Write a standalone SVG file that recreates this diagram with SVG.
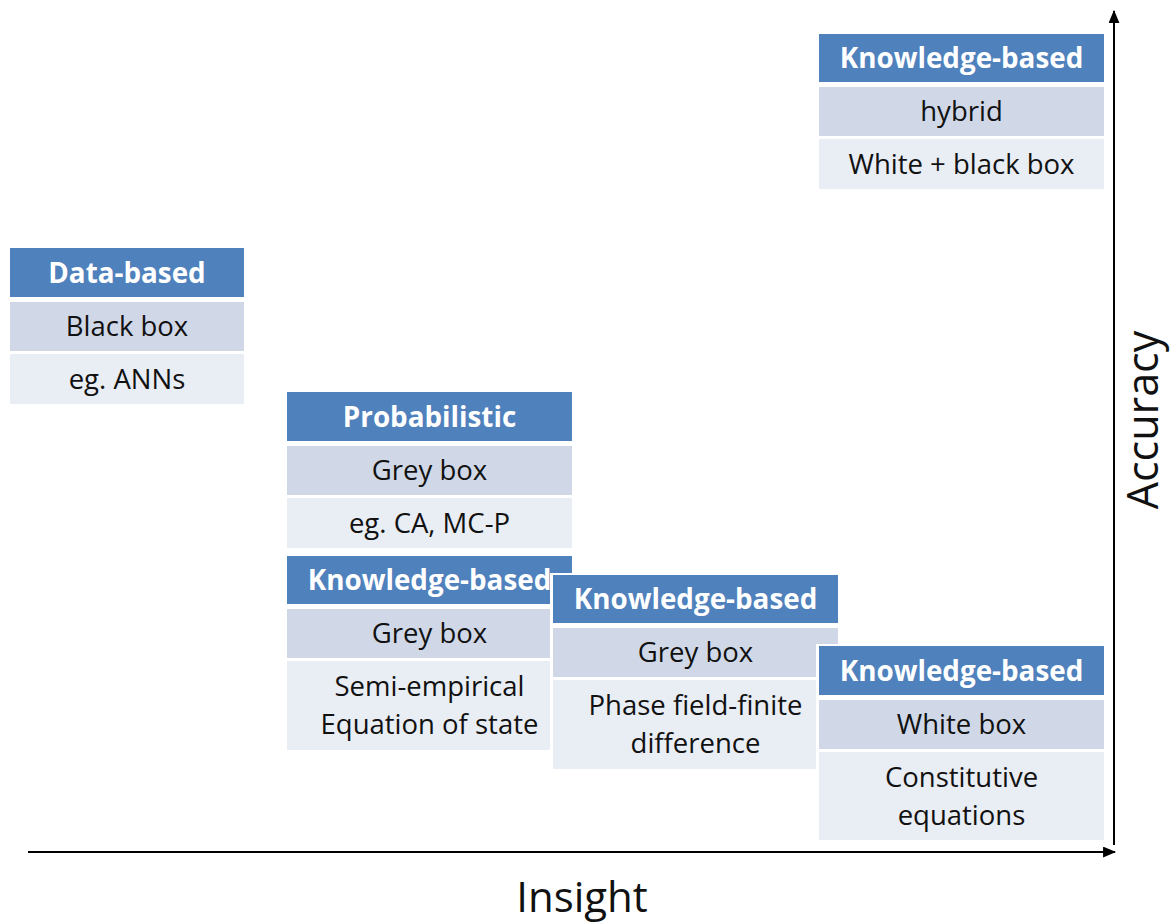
<svg xmlns="http://www.w3.org/2000/svg" width="1175" height="923" viewBox="0 0 1175 923">
  <style>
    .hd { fill: #4f81bd; }
    .r1 { fill: #d0d8e8; }
    .r2 { fill: #e9edf4; }
    .mask { fill: #ffffff; }
    .ht { font-family: "Open Sans", "Noto Sans", "Liberation Sans", sans-serif; font-weight: bold; font-size: 27.8px; fill: #ffffff; text-anchor: middle; }
    .ct { font-family: "Open Sans", "Noto Sans", "Liberation Sans", sans-serif; font-size: 27.5px; fill: #111111; text-anchor: middle; }
    .ax { stroke: #000000; stroke-width: 2; fill: none; }
    .al { font-family: "Open Sans", "Noto Sans", "Liberation Sans", sans-serif; font-size: 42px; fill: #111111; text-anchor: middle; }
  </style>
  <defs>
    <marker id="arrow" viewBox="0 0 12 10" refX="11" refY="5" markerWidth="6.5" markerHeight="5.5" orient="auto" markerUnits="strokeWidth">
      <path d="M0,0 L12,5 L0,10 z" fill="#000000"/>
    </marker>
  </defs>

  <rect width="1175" height="923" fill="#ffffff"/>

  <!-- axes -->
  <g id="connectors">
    <line class="ax" x1="1114" y1="845" x2="1114" y2="11" marker-end="url(#arrow)"/>
    <line class="ax" x1="28" y1="852" x2="1115" y2="852" marker-end="url(#arrow)"/>
  </g>

  <!-- Data-based -->
  <g id="data-based">
    <rect class="hd" x="10" y="248" width="234" height="49"/>
    <rect class="r1" x="10" y="302" width="234" height="49"/>
    <rect class="r2" x="10" y="354" width="234" height="50"/>
    <text class="ht" x="127" y="282.5">Data-based</text>
    <text class="ct" x="127" y="336">Black box</text>
    <text class="ct" x="127" y="388.5">eg. ANNs</text>
  </g>

  <!-- Probabilistic -->
  <g id="probabilistic">
    <rect class="hd" x="287" y="392" width="285" height="49"/>
    <rect class="r1" x="287" y="446" width="285" height="49"/>
    <rect class="r2" x="287" y="498" width="285" height="50"/>
    <text class="ht" x="429.5" y="426.5">Probabilistic</text>
    <text class="ct" x="429.5" y="480">Grey box</text>
    <text class="ct" x="429.5" y="532.5">eg. CA, MC-P</text>
  </g>

  <!-- Knowledge-based: semi-empirical -->
  <g id="kb-semi-empirical">
    <rect class="hd" x="287" y="556" width="285" height="48"/>
    <rect class="r1" x="287" y="609" width="285" height="49"/>
    <rect class="r2" x="287" y="661" width="285" height="89"/>
    <text class="ht" x="429.5" y="590">Knowledge-based</text>
    <text class="ct" x="429.5" y="643">Grey box</text>
    <text class="ct" x="429.5" y="696">Semi-empirical</text>
    <text class="ct" x="429.5" y="734">Equation of state</text>
  </g>

  <!-- Knowledge-based: phase field -->
  <g id="kb-phase-field">
    <rect class="mask" x="550" y="573" width="290" height="198"/>
    <rect class="hd" x="553" y="575" width="285" height="48"/>
    <rect class="r1" x="553" y="628" width="285" height="49"/>
    <rect class="r2" x="553" y="680" width="285" height="89"/>
    <text class="ht" x="695.5" y="609">Knowledge-based</text>
    <text class="ct" x="695.5" y="662">Grey box</text>
    <text class="ct" x="695.5" y="715">Phase field-finite</text>
    <text class="ct" x="695.5" y="753">difference</text>
  </g>

  <!-- Knowledge-based: white box -->
  <g id="kb-white-box">
    <rect class="mask" x="816" y="644" width="290" height="198"/>
    <rect class="hd" x="819" y="646" width="285" height="49"/>
    <rect class="r1" x="819" y="700" width="285" height="49"/>
    <rect class="r2" x="819" y="752" width="285" height="88"/>
    <text class="ht" x="961.5" y="680.5">Knowledge-based</text>
    <text class="ct" x="961.5" y="734">White box</text>
    <text class="ct" x="961.5" y="787">Constitutive</text>
    <text class="ct" x="961.5" y="825">equations</text>
  </g>

  <!-- Knowledge-based: hybrid -->
  <g id="kb-hybrid">
    <rect class="hd" x="819" y="34" width="285" height="48"/>
    <rect class="r1" x="819" y="87" width="285" height="49"/>
    <rect class="r2" x="819" y="139" width="285" height="50"/>
    <text class="ht" x="961.5" y="67.5">Knowledge-based</text>
    <text class="ct" x="961.5" y="121">hybrid</text>
    <text class="ct" x="961.5" y="173.5">White + black box</text>
  </g>

  <!-- axis labels -->
  <g id="axis-labels">
    <text class="al" x="582" y="912">Insight</text>
    <text class="al" style="font-size:43px" transform="translate(1158,420) rotate(-90)">Accuracy</text>
  </g>
</svg>
